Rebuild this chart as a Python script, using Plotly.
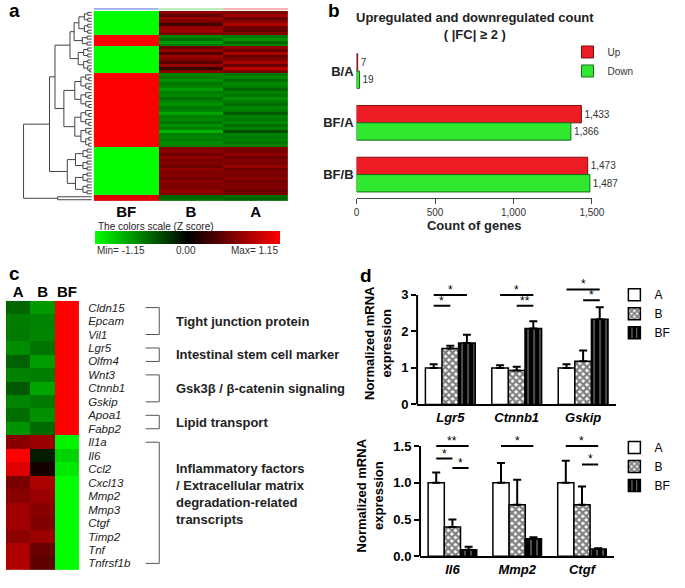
import plotly.graph_objects as go

W, H = 685, 588
FONT = "Liberation Sans, Arial, sans-serif"

# ---------------- panel a : clustered heatmap (z score) ----------------
cols_a = ["BF", "B", "A"]
block_sizes = [8, 4, 9, 25, 16, 2]
block_bf = [-1.15, 1.15, -1.15, 1.15, -1.15, 1.0]
block_b = [
    [0.62, 0.45, 0.70, 0.55, 0.30, 0.66, 0.72, 0.58],
    [-0.62, -0.50, -0.70, -0.55],
    [0.50, 0.66, 0.35, 0.72, 0.58, 0.40, 0.68, 0.25, 0.62],
    [-0.60, -0.55, -0.65, -0.52, -0.58, -0.70, -0.57, -0.62, -0.50, -0.60, -0.66, -0.54, -0.59,
     -0.75, -0.56, -0.61, -0.53, -0.64, -0.58, -0.80, -0.57, -0.60, -0.55, -0.63, -0.58],
    [0.58, 0.62, 0.50, 0.66, 0.55, 0.60, 0.48, 0.64, 0.57, 0.61, 0.52, 0.63, 0.59, 0.55, 0.66, 0.60],
    [-0.45, -0.50],
]
block_a = [
    [0.55, 0.72, 0.48, 0.62, 0.80, 0.50, 0.45, 0.60],
    [-0.55, -0.66, -0.45, -0.60],
    [0.66, 0.48, 0.78, 0.45, 0.60, 0.75, 0.47, 0.88, 0.55],
    [-0.55, -0.60, -0.50, -0.63, -0.57, -0.45, -0.58, -0.53, -0.65, -0.55, -0.49, -0.61, -0.56,
     -0.40, -0.59, -0.54, -0.62, -0.51, -0.57, -0.35, -0.58, -0.55, -0.60, -0.52, -0.57],
    [0.57, 0.53, 0.65, 0.49, 0.60, 0.55, 0.67, 0.51, 0.58, 0.54, 0.63, 0.52, 0.56, 0.60, 0.49, 0.55],
    [-0.50, -0.45],
]
# merge heights inside each block (by level) and between blocks
block_levels = [
    [1.9, 1.1, 0.6, 0.3],
    [1.4, 0.7, 0.3],
    [2.0, 1.2, 0.6, 0.3],
    [4.1, 2.5, 1.6, 0.9, 0.45, 0.2],
    [3.6, 2.4, 1.3, 0.7, 0.3],
    [5.0],
]
block_tree = [10.0, [6.2, [5.4, [3.2, [2.6, 0, 1], 2], 3], 4], 5]

# ---------------- panel b : up / down counts ----------------
pairs = ["B/A", "BF/A", "BF/B"]
up_count = [7, 1433, 1473]
down_count = [19, 1366, 1487]

# ---------------- panel c : selected genes ----------------
cols_c = ["A", "B", "BF"]
genes = ["Cldn15", "Epcam", "Vil1", "Lgr5", "Olfm4", "Wnt3", "Ctnnb1", "Gskip", "Apoa1", "Fabp2",
         "Il1a", "Il6", "Ccl2", "Cxcl13", "Mmp2", "Mmp3", "Ctgf", "Timp2", "Tnf", "Tnfrsf1b"]
c_a = [-0.46, -0.56, -0.55, -0.63, -0.44, -0.58, -0.40, -0.60, -0.50, -0.67,
       0.62, 1.15, 1.00, 0.55, 0.62, 0.72, 0.72, 0.63, 0.78, 0.80]
c_b = [-0.69, -0.59, -0.60, -0.52, -0.71, -0.57, -0.75, -0.55, -0.65, -0.48,
       0.70, -0.12, 0.10, 0.78, 0.70, 0.62, 0.58, 0.70, 0.48, 0.42]
c_bf = [1.15, 1.15, 1.15, 1.15, 1.15, 1.15, 1.15, 1.15, 1.15, 1.15,
        -1.10, -0.95, -1.05, -1.15, -1.15, -1.15, -1.15, -1.15, -1.15, -1.15]
gene_groups = [
    ("Tight junction protein", 0, 2),
    ("Intestinal stem cell marker", 3, 4),
    ("Gsk3β / β-catenin signaling", 5, 7),
    ("Lipid transport", 8, 9),
    ("Inflammatory factors<br>/ Extracellular matrix<br>degradation-related<br>transcripts", 10, 19),
]

# ---------------- panel d : qPCR ----------------
top_genes = ["Lgr5", "Ctnnb1", "Gskip"]
top_a = [1.0, 1.0, 1.0]
top_a_err = [0.10, 0.07, 0.10]
top_b = [1.53, 0.93, 1.18]
top_b_err = [0.08, 0.10, 0.30]
top_bf = [1.68, 2.08, 2.33]
top_bf_err = [0.23, 0.20, 0.33]
top_sig = [(0, "A", "BF", 3.0, "*"), (0, "A", "B", 2.7, "*"),
           (1, "A", "BF", 3.0, "*"), (1, "B", "BF", 2.7, "**"),
           (2, "A", "BF", 3.15, "*"), (2, "B", "BF", 2.85, "*")]

bot_genes = ["Il6", "Mmp2", "Ctgf"]
bot_a = [1.0, 1.0, 1.0]
bot_a_err = [0.14, 0.27, 0.30]
bot_b = [0.40, 0.70, 0.70]
bot_b_err = [0.10, 0.34, 0.25]
bot_bf = [0.09, 0.24, 0.10]
bot_bf_err = [0.04, 0.02, 0.01]
bot_sig = [(0, "A", "BF", 1.5, "**"), (0, "A", "B", 1.33, "*"), (0, "B", "BF", 1.2, "*"),
           (1, "A", "BF", 1.5, "*"), (2, "A", "BF", 1.5, "*"), (2, "B", "BF", 1.25, "*")]

ZSCALE = [[0, "#00ff00"], [0.5, "#000000"], [1, "#ff0000"]]


def px_x(p):
    return p / W


def px_y(p):
    return 1 - p / H


def note(text, x, y, **kw):
    d = dict(text=text, x=x, y=y, xref="paper", yref="paper", showarrow=False)
    d.update(kw)
    return d


# ---- build dendrogram segments
def build(lo, n, levels, d=0):
    if n == 1:
        return lo, 0.0, []
    h = levels[d] if d < len(levels) else levels[-1] * 0.5
    k = n // 2
    y1, h1, s1 = build(lo, k, levels, d + 1)
    y2, h2, s2 = build(lo + k, n - k, levels, d + 1)
    return (y1 + y2) / 2, h, s1 + s2 + [[(h1, y1), (h, y1), (h, y2), (h2, y2)]]


starts = [sum(block_sizes[:i]) for i in range(len(block_sizes))]
block_nodes = [build(starts[i], block_sizes[i], block_levels[i]) for i in range(len(block_sizes))]


def combine(node):
    if isinstance(node, int):
        return block_nodes[node]
    h, l, r = node
    y1, h1, s1 = combine(l)
    y2, h2, s2 = combine(r)
    return (y1 + y2) / 2, h, s1 + s2 + [[(h1, y1), (h, y1), (h, y2), (h2, y2)]]


_, _, segs = combine(block_tree)
dx, dy = [], []
for s in segs:
    for (hx, yy) in s:
        dx.append(hx)
        dy.append(yy)
    dx.append(None)
    dy.append(None)

z_a = []
for i, n in enumerate(block_sizes):
    for j in range(n):
        z_a.append([block_bf[i], block_b[i][j], block_a[i][j]])
n_rows = len(z_a)

fig = go.Figure()

# dendrogram
fig.add_trace(go.Scatter(x=dx, y=dy, mode="lines", line=dict(color="#444", width=1),
                         xaxis="x", yaxis="y", showlegend=False, hoverinfo="skip"))
# heatmap a
fig.add_trace(go.Heatmap(z=z_a, x=cols_a, y=list(range(n_rows)), colorscale=ZSCALE,
                         zmin=-1.15, zmax=1.15, xaxis="x2", yaxis="y2",
                         colorbar=dict(orientation="h", x=px_x(188.5), xanchor="center",
                                       y=px_y(234), yanchor="top", len=189 / W, lenmode="fraction",
                                       thickness=13, outlinewidth=0, showticklabels=False,
                                       ticks="", xpad=0, ypad=0)))

# panel b bars
fig.add_trace(go.Bar(y=pairs, x=up_count, orientation="h", name="Up",
                     marker=dict(color="#ee1c25", line=dict(color="#7a1010", width=1)),
                     width=0.335, offset=-0.335, texttemplate="%{x:,}", textposition="outside",
                     textfont=dict(size=10, color="#333"), cliponaxis=False,
                     xaxis="x3", yaxis="y3", legend="legend"))
fig.add_trace(go.Bar(y=pairs, x=down_count, orientation="h", name="Down",
                     marker=dict(color="#2fe82f", line=dict(color="#1d6b1d", width=1)),
                     width=0.335, offset=0, texttemplate="%{x:,}", textposition="outside",
                     textfont=dict(size=10, color="#333"), cliponaxis=False,
                     xaxis="x3", yaxis="y3", legend="legend"))

# panel c heatmap
z_c = [[c_a[i], c_b[i], c_bf[i]] for i in range(len(genes))]
fig.add_trace(go.Heatmap(z=z_c, x=cols_c, y=list(range(len(genes))), colorscale=ZSCALE,
                         zmin=-1.15, zmax=1.15, showscale=False, xaxis="x4", yaxis="y4"))

# panel d bars
styles = {
    "A": dict(color="white", line=dict(color="black", width=1.5)),
    "B": dict(color="white", line=dict(color="black", width=1.5),
              pattern=dict(shape="x", fgcolor="black", bgcolor="white", size=5, solidity=0.7)),
    "BF": dict(color="black", line=dict(color="black", width=1.5),
               pattern=dict(shape="|", fgcolor="white", bgcolor="black", size=6, solidity=0.2)),
}
for genes_d, series, ax, lg in [
    (top_genes, [("A", top_a, top_a_err), ("B", top_b, top_b_err), ("BF", top_bf, top_bf_err)], "5", "legend2"),
    (bot_genes, [("A", bot_a, bot_a_err), ("B", bot_b, bot_b_err), ("BF", bot_bf, bot_bf_err)], "6", "legend3"),
]:
    for name, vals, errs in series:
        fig.add_trace(go.Bar(x=genes_d, y=vals, name=name, marker=styles[name],
                             error_y=dict(type="data", array=errs, arrayminus=[0] * len(errs),
                                          symmetric=False, color="black", thickness=2, width=4),
                             xaxis="x" + ax, yaxis="y" + ax, legend=lg))

shapes = []
annotations = []

# sample colour strip over heatmap a
for i, col in enumerate(["#a9b4ee", "#b6eeb6", "#f4b4b4"]):
    shapes.append(dict(type="line", xref="x2", yref="paper", x0=i - 0.5, x1=i + 0.5,
                       y0=px_y(9), y1=px_y(9), line=dict(color=col, width=2)))

# colour scale labels
annotations += [
    note("The colors scale (Z score)", px_x(95), px_y(230), xanchor="left", yanchor="middle",
         font=dict(size=10, color="#222")),
    note("Min= -1.15", px_x(94), px_y(254), xanchor="left", yanchor="middle", font=dict(size=10, color="#333")),
    note("0.00", px_x(187), px_y(254), xanchor="center", yanchor="middle", font=dict(size=10, color="#333")),
    note("Max= 1.15", px_x(284), px_y(254), xanchor="right", yanchor="middle", font=dict(size=10, color="#333")),
]

# panel letters
for t, x, y in [("a", 4, 11), ("b", 331, 11), ("c", 4, 277), ("d", 364, 279)]:
    annotations.append(note("<b>%s</b>" % t, px_x(x), px_y(y), xanchor="left", yanchor="middle",
                            font=dict(size=19, color="black")))

# panel b title
annotations.append(note("<b>Upregulated and downregulated count<br>( |FC| ≥ 2 )</b>",
                        px_x(483), px_y(26), xanchor="center", yanchor="middle",
                        font=dict(size=13, color="#222")))

# panel c brackets and group labels
bx0, bx1 = px_x(146), px_x(160)
for label, r0, r1 in gene_groups:
    for (xa, ya, xb, yb) in [(bx0, r0, bx1, r0), (bx1, r0, bx1, r1), (bx1, r1, bx0, r1)]:
        shapes.append(dict(type="line", xref="paper", yref="y4", x0=xa, y0=ya, x1=xb, y1=yb,
                           line=dict(color="#555", width=1)))
    annotations.append(dict(text="<b>%s</b>" % label, xref="paper", yref="y4", x=px_x(175),
                            y=(r0 + r1) / 2, xanchor="left", yanchor="middle", align="left",
                            yshift=9 if r1 - r0 > 5 else 0, showarrow=False,
                            font=dict(size=13, color="#222")))

# panel d axis lines and significance marks
pos = {"A": -0.25, "B": 0.0, "BF": 0.25}
for ax, top, sig in [("5", 3, top_sig), ("6", 1.5, bot_sig)]:
    shapes.append(dict(type="line", xref="x%s domain" % ax, yref="y" + ax, x0=0, x1=0, y0=0, y1=top,
                       line=dict(color="black", width=2)))
    for (ci, g0, g1, yv, star) in sig:
        shapes.append(dict(type="line", xref="x" + ax, yref="y" + ax, x0=ci + pos[g0], x1=ci + pos[g1],
                           y0=yv, y1=yv, line=dict(color="black", width=2)))
        annotations.append(dict(text=star, xref="x" + ax, yref="y" + ax, x=ci + (pos[g0] + pos[g1]) / 2,
                                y=yv, yanchor="bottom", yshift=-4, showarrow=False,
                                font=dict(size=12, color="black")))

# ---------------- layout ----------------
fig.update_layout(
    width=W, height=H, margin=dict(l=0, r=0, t=0, b=0), autosize=False,
    paper_bgcolor="white", plot_bgcolor="white",
    font=dict(family=FONT, color="black"),
    bargap=0.25, barmode="group",
    shapes=shapes, annotations=annotations,
    xaxis=dict(domain=[px_x(20), px_x(91)], range=[10.15, 0], visible=False),
    yaxis=dict(domain=[px_y(204), px_y(11)], range=[n_rows - 0.5, -0.5], visible=False),
    xaxis2=dict(domain=[px_x(92), px_x(293)], anchor="y2", ticks="", showline=False,
                tickfont=dict(size=15, weight="bold"), ticklabelstandoff=0),
    yaxis2=dict(domain=[px_y(204), px_y(11)], range=[n_rows - 0.5, -0.5], anchor="x2", visible=False),
    xaxis3=dict(domain=[px_x(362), px_x(603)], anchor="y3", range=[0, 1500],
                tickvals=[0, 500, 1000, 1500], ticktext=["0", "500", "1,000", "1,500"],
                ticks="outside", ticklen=5, tickcolor="#444", showline=True, linecolor="#444",
                linewidth=1, showgrid=False, zeroline=False, tickfont=dict(size=10, color="#333"),
                title=dict(text="Count of genes", font=dict(size=13, weight="bold", color="#222"),
                           standoff=2)),
    yaxis3=dict(domain=[px_y(201), px_y(46)], anchor="x3", range=[2.457, -0.495], ticks="",
                showline=False, showgrid=False, tickfont=dict(size=13, weight="bold", color="#222"),
                ticklabelstandoff=2),
    xaxis4=dict(domain=[px_x(3), px_x(78)], anchor="y4", side="top", ticks="", showline=False,
                tickfont=dict(size=15, weight="bold")),
    yaxis4=dict(domain=[px_y(578), px_y(305)], anchor="x4", range=[len(genes) - 0.5, -0.5],
                side="right", tickvals=list(range(len(genes))), ticktext=genes, ticks="",
                showline=False, showgrid=False, zeroline=False, ticklabelstandoff=8,
                tickfont=dict(size=11.5, style="italic", color="#222")),
    xaxis5=dict(domain=[px_x(424), px_x(628)], anchor="y5", showline=True, linecolor="black",
                linewidth=2, ticks="", tickfont=dict(size=13, weight="bold", style="italic")),
    yaxis5=dict(domain=[px_y(410), px_y(286)], anchor="x5", range=[0, 3.35], tickvals=[0, 1, 2, 3],
                ticks="outside", ticklen=5, tickwidth=2, tickcolor="black", showline=False,
                showgrid=False, zeroline=False, tickfont=dict(size=13, weight="bold"),
                title=dict(text="Normalized mRNA<br>expression", font=dict(size=13, weight="bold"),
                           standoff=6)),
    xaxis6=dict(domain=[px_x(427), px_x(626)], anchor="y6", showline=True, linecolor="black",
                linewidth=2, ticks="", tickfont=dict(size=13, weight="bold", style="italic")),
    yaxis6=dict(domain=[px_y(564), px_y(441)], anchor="x6", range=[0, 1.65],
                tickvals=[0, 0.5, 1.0, 1.5], tickformat=".1f",
                ticks="outside", ticklen=5, tickwidth=2, tickcolor="black", showline=False,
                showgrid=False, zeroline=False, tickfont=dict(size=13, weight="bold"),
                title=dict(text="Normalized mRNA<br>expression", font=dict(size=13, weight="bold"),
                           standoff=6)),
    legend=dict(x=px_x(578), y=px_y(38), xanchor="left", yanchor="top", bgcolor="rgba(0,0,0,0)",
                font=dict(size=10, color="#333"), tracegroupgap=0),
    legend2=dict(x=px_x(626), y=px_y(284), xanchor="left", yanchor="top", bgcolor="rgba(0,0,0,0)",
                 font=dict(size=12), tracegroupgap=0),
    legend3=dict(x=px_x(626), y=px_y(439), xanchor="left", yanchor="top", bgcolor="rgba(0,0,0,0)",
                 font=dict(size=12), tracegroupgap=0),
)

# fit the figure exactly to the browser viewport
fit_js = (
    "document.documentElement.style.overflow='hidden';"
    "document.body.style.margin='0';document.body.style.overflow='hidden';"
    "var gd=document.getElementById('{plot_id}');"
    "Plotly.relayout(gd,{width:document.documentElement.clientWidth,"
    "height:document.documentElement.clientHeight});"
)
fig.write_html("out.html", config={"displayModeBar": False}, post_script=fit_js)
